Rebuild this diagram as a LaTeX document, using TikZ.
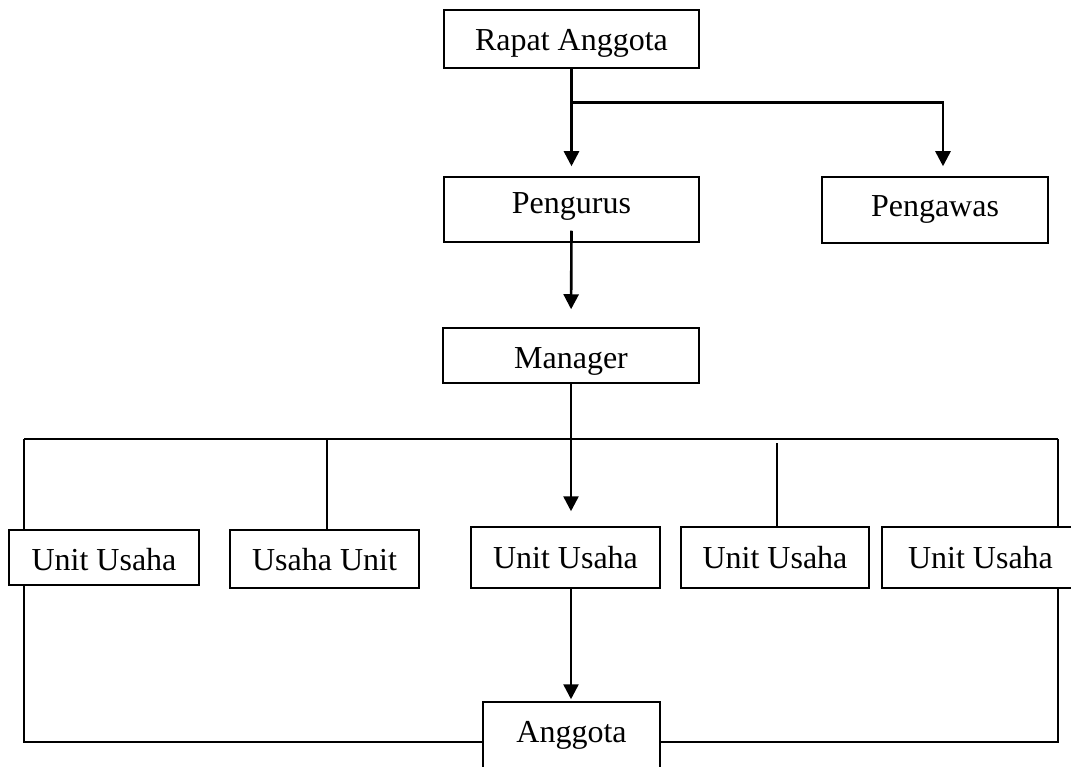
\documentclass[tikz,border=0pt]{standalone}
\usepackage{fontspec}
\setmainfont{Liberation Serif}
\usetikzlibrary{arrows.meta,calc}
\begin{document}
\begin{tikzpicture}[x=1pt,y=-1pt,
  box/.style={draw, line width=1.5pt, inner sep=0pt, text height=21pt, text depth=0pt,
              font=\fontsize{32}{38}\selectfont, anchor=center},
  arr/.style={line width=2.6pt, -{Triangle[width=15pt,length=15pt]}},
  conn/.style={line width=1.6pt}]
\useasboundingbox (0,0) rectangle (1071,767);
\node[box, minimum width=255pt, minimum height=58pt, text height=24pt] (ra) at (571.5,39) {Rapat Anggota};
\node[box, minimum width=255pt, minimum height=65pt, text depth=13pt] (pengurus) at (571.5,209.5) {Pengurus};
\node[box, minimum width=226pt, minimum height=66pt, text depth=7pt] (pengawas) at (935,210) {Pengawas};
\node[box, minimum width=256pt, minimum height=55pt, text height=26pt] (manager) at (571,355.5) {Manager};
\node[box, minimum width=190pt, minimum height=55pt, text height=26pt] (u1) at (104,557.5) {Unit Usaha};
\node[box, minimum width=189pt, minimum height=58pt, text height=23pt] (u2) at (324.5,559) {Usaha Unit};
\node[box, minimum width=189pt, minimum height=61pt] (u3) at (565.5,557.5) {Unit Usaha};
\node[box, minimum width=188pt, minimum height=61pt] (u4) at (775,557.5) {Unit Usaha};
\node[box, minimum width=197pt, minimum height=61pt] (u5) at (980.5,557.5) {Unit Usaha};
\node[box, minimum width=177pt, minimum height=80pt, text depth=20pt] (anggota) at (571.5,742) {Anggota};
% top connectors
\coordinate (br) at ($(ra.south)+(0,34)$);
\draw[arr, shorten >=10pt] (ra.south) -- (pengurus.north);
\draw[arr, shorten >=10pt] (br) -| ($(pengawas.north)+(8,0)$);
\draw[arr, shorten >=18pt] ($(pengurus.south)+(0,-12)$) -- (manager.north);
% bus
\coordinate (busL) at (24,439);
\coordinate (busR) at (1058,439);
\coordinate (u4top) at (777,443);
\draw[conn] (busL) -- (busR);
\draw[arr, shorten >=15pt] (manager.south) -- (manager.south |- u3.north);
\draw[conn] (busL) -- (busL |- u1.north);
\draw[conn] ($(u2.north |- busL)+(2.5,0)$) -- ($(u2.north)+(2.5,0)$);
\draw[conn] (u4top) -- (u4top |- u4.north);
\draw[conn] (busR) -- (busR |- u5.north);
% lower
\draw[arr, shorten >=2pt] (manager.south |- u3.south) -- (manager.south |- anggota.north);
\draw[conn] (busL |- u1.south) |- (anggota.west);
\draw[conn] (busR |- u5.south) |- (anggota.east);
\end{tikzpicture}
\end{document}
